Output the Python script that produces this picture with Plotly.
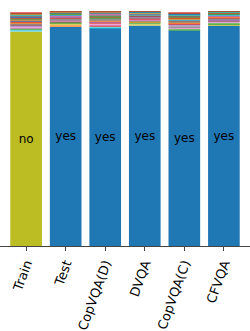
import plotly.graph_objects as go

datasets = ["Train", "Test", "CopVQA(D)", "DVQA", "CopVQA(C)", "CFVQA"]

answers = ["yes", "2", "1", "3", "0", "4", "5", "6", "no", "red",
           "blue", "green", "black", "white", "gray", "yellow", "brown", "7",
           "8", "10", "left", "right", "many", "none"]

# answer share per dataset (same order as `answers`)
share = {
    "Train":     [0.003, 0.004, 0.006, 0.004, 0.005, 0.005, 0.006, 0.005, 0.915, 0.009,
                  0.0025, 0.003, 0.0028, 0.0027, 0.0026, 0.0024, 0.0029, 0.0023,
                  0.0022, 0.0021, 0.002, 0.0019, 0.0018, 0.0017],
    "Test":      [0.936, 0.008, 0.005, 0.003, 0.0028, 0.005, 0.0045, 0.004, 0.006, 0.002,
                  0.0015, 0.0019, 0.0018, 0.0017, 0.0022, 0.0026, 0.0024, 0.0035,
                  0.0016, 0.0014, 0.0013, 0.0012, 0.0011, 0.001],
    "CopVQA(D)": [0.93, 0.004, 0.0035, 0.006, 0.0045, 0.003, 0.0055, 0.004, 0.0025, 0.007,
                  0.0018, 0.0032, 0.0028, 0.005, 0.0024, 0.0022, 0.002, 0.0038,
                  0.0019, 0.0017, 0.0016, 0.0015, 0.0014, 0.0013],
    "DVQA":      [0.94, 0.005, 0.006, 0.0035, 0.003, 0.0025, 0.004, 0.0045, 0.009, 0.002,
                  0.0012, 0.0022, 0.0018, 0.0028, 0.0016, 0.0015, 0.0014, 0.0032,
                  0.0013, 0.0012, 0.0011, 0.001, 0.001, 0.0009],
    "CopVQA(C)": [0.92, 0.0045, 0.007, 0.005, 0.0055, 0.004, 0.0065, 0.006, 0.003, 0.0035,
                  0.0016, 0.0032, 0.0025, 0.0028, 0.0022, 0.0021, 0.002, 0.0042,
                  0.0018, 0.0017, 0.0016, 0.0015, 0.0014, 0.0013],
    "CFVQA":     [0.94, 0.003, 0.006, 0.0035, 0.0045, 0.005, 0.0055, 0.004, 0.0065, 0.0025,
                  0.0012, 0.0016, 0.0022, 0.0019, 0.0028, 0.0015, 0.003, 0.0024,
                  0.0011, 0.001, 0.0009, 0.0009, 0.0008, 0.0008],
}

tab10 = ['#1f77b4', '#ff7f0e', '#2ca02c', '#d62728', '#9467bd',
         '#8c564b', '#e377c2', '#7f7f7f', '#bcbd22', '#17becf']

fig = go.Figure()
for d in datasets:
    vals = share[d]
    order = sorted(range(len(answers)), key=lambda i: -vals[i])
    base = 0.0
    for rank, i in enumerate(order):
        main = rank == 0
        fig.add_trace(go.Bar(
            x=[d], y=[vals[i]], base=[base], width=0.8,
            marker=dict(color=tab10[i % 10], line=dict(width=0)),
            opacity=1.0 if main else 0.65,
            text=[answers[i]] if main else None,
            textposition="inside" if main else "none",
            insidetextanchor="middle",
            textangle=0, constraintext="none",
            textfont=dict(family="DejaVu Sans", size=12, color="black"),
            showlegend=False, hoverinfo="skip",
        ))
        base += vals[i]

fig.update_layout(
    width=250, height=331,
    margin=dict(l=0, r=0, t=0, b=85, autoexpand=False),
    barmode="overlay",
    plot_bgcolor="white", paper_bgcolor="white",
    font=dict(family="DejaVu Sans", size=12, color="black"),
    uniformtext=dict(mode=False),
)
fig.update_xaxes(
    type="category", categoryorder="array", categoryarray=datasets,
    range=[-0.66, 5.66], tickangle=-70, automargin=False,
    showline=True, linecolor="#444", linewidth=1,
    ticks="outside", ticklen=4, tickcolor="#444",
    showgrid=False, tickfont=dict(size=13),
)
fig.update_yaxes(range=[0, 1.05], visible=False, automargin=False)

fig.write_html("out.html", config={"displayModeBar": False},
               post_script="document.body.style.margin='0';document.body.style.padding='0';")
